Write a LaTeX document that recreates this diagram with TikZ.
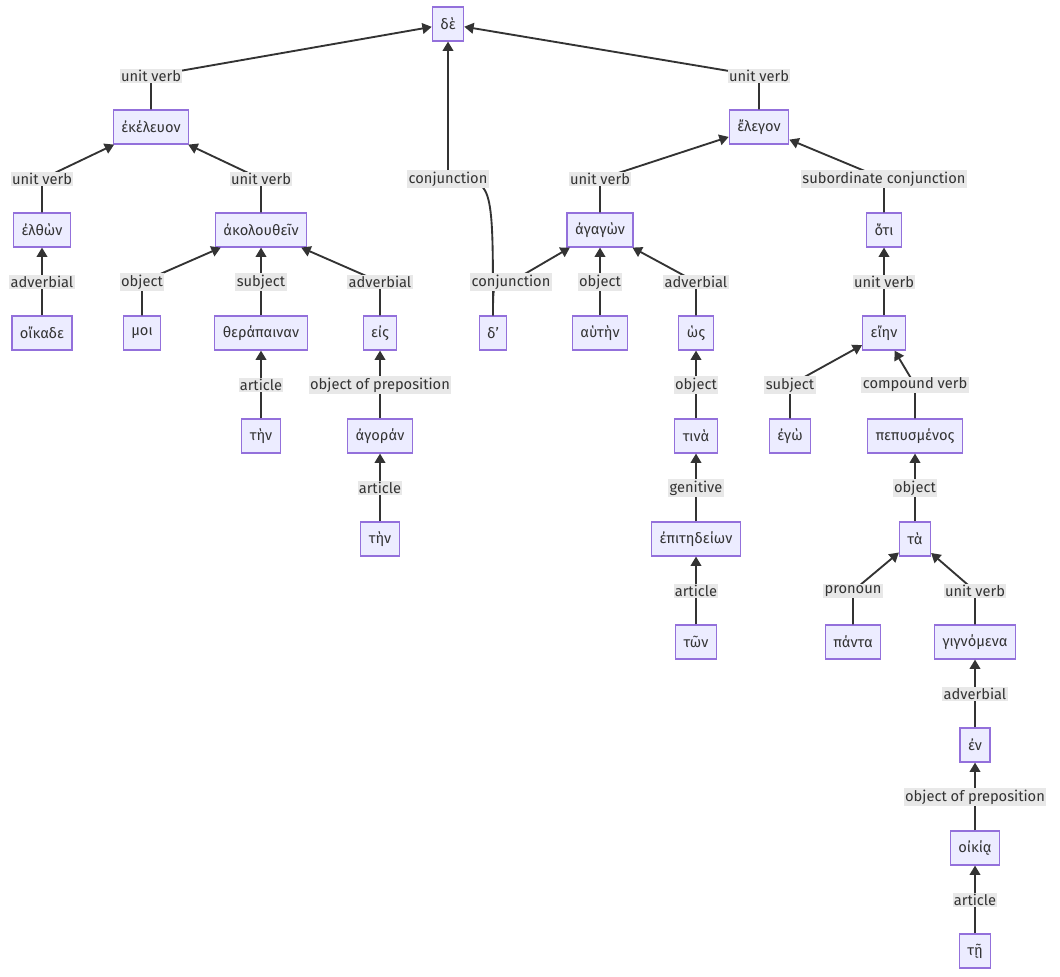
\documentclass[tikz,border=0pt]{standalone}
\usepackage{fontspec}
\setmainfont{Fira Sans}
\usetikzlibrary{arrows.meta}
\definecolor{nfill}{HTML}{ECECFF}
\definecolor{ndraw}{HTML}{9370DB}
\definecolor{lfill}{HTML}{E8E8E8}
\definecolor{ecol}{HTML}{333333}
\tikzset{
 wn/.style={draw=ndraw,fill=nfill,line width=0.9pt,minimum height=25.5pt,inner xsep=6pt,font=\fontsize{11}{13}\selectfont,text=ecol},
 lab/.style={fill=lfill,inner sep=1pt,font=\fontsize{11}{13}\selectfont,text=ecol},
 edge/.style={draw=ecol,line width=1.4pt,-{Triangle[length=7pt,width=8pt]}}
}
\newcommand\ed[5]{%
 \coordinate (#4c) at (#3);
 \draw[edge] (#1.north) .. controls (#1.north|-#4c) .. (#4c) -- (#2);
 \node[lab] (#4) at (#4c) {#5};}
\begin{document}
\begin{tikzpicture}[x=0.75pt,y=-0.75pt]
\useasboundingbox (0,0) rectangle (1060,977);
\node[wn] (de) at (448,24) {δὲ};
\node[wn] (ekel) at (151,127) {ἐκέλευον};
\node[wn] (elth) at (42,230) {ἐλθὼν};
\node[wn] (oik) at (42,333) {οἴκαδε};
\node[wn] (akol) at (261,230) {ἀκολουθεῖν};
\node[wn] (moi) at (142,333) {μοι};
\node[wn] (ther) at (261,333) {θεράπαιναν};
\node[wn] (tin1) at (261,436) {τὴν};
\node[wn] (eis) at (380,333) {εἰς};
\node[wn] (agor) at (380,436) {ἀγοράν};
\node[wn] (tin2) at (380,539) {τὴν};
\node[wn] (dd) at (493,333) {δ'};
\node[wn] (eleg) at (759,127) {ἔλεγον};
\node[wn] (agag) at (600,230) {ἀγαγὼν};
\node[wn] (aut) at (600,333) {αὑτὴν};
\node[wn] (hos) at (696,333) {ὡς};
\node[wn] (tina) at (696,436) {τινὰ};
\node[wn] (epit) at (696,539) {ἐπιτηδείων};
\node[wn] (ton) at (696,642) {τῶν};
\node[wn] (oti) at (884,230) {ὅτι};
\node[wn] (eien) at (884,333) {εἴην};
\node[wn] (ego) at (790,436) {ἐγὼ};
\node[wn] (pep) at (915,436) {πεπυσμένος};
\node[wn] (ta) at (915,539) {τὰ};
\node[wn] (pan) at (853,642) {πάντα};
\node[wn] (gign) at (975,642) {γιγνόμενα};
\node[wn] (en) at (975,745) {ἐν};
\node[wn] (oikia) at (975,848) {οἰκίᾳ};
\node[wn] (te) at (975,951) {τῇ};
\ed{ekel}{de}{151,76}{l1}{unit verb}
\ed{dd}{de}{448,179}{l2}{conjunction}
\ed{eleg}{de}{759,76}{l3}{unit verb}
\ed{elth}{ekel}{42,179}{l4}{unit verb}
\ed{akol}{ekel}{261,179}{l5}{unit verb}
\ed{oik}{elth}{42,282}{l6}{adverbial}
\ed{moi}{akol}{142,282}{l7}{object}
\ed{ther}{akol}{261,282}{l8}{subject}
\ed{eis}{akol}{380,282}{l9}{adverbial}
\ed{tin1}{ther}{261,385}{l10}{article}
\ed{agor}{eis}{380,385}{l11}{object of preposition}
\ed{tin2}{agor}{380,488}{l12}{article}
\ed{agag}{eleg}{600,179}{l13}{unit verb}
\ed{oti}{eleg}{884,179}{l14}{subordinate conjunction}
\ed{dd}{agag}{511,282}{l15}{conjunction}
\ed{aut}{agag}{600,282}{l16}{object}
\ed{hos}{agag}{696,282}{l17}{adverbial}
\ed{tina}{hos}{696,385}{l18}{object}
\ed{epit}{tina}{696,488}{l19}{genitive}
\ed{ton}{epit}{696,591}{l20}{article}
\ed{eien}{oti}{884,282}{l21}{unit verb}
\ed{ego}{eien}{790,385}{l22}{subject}
\ed{pep}{eien}{915,385}{l23}{compound verb}
\ed{ta}{pep}{915,488}{l24}{object}
\ed{pan}{ta}{853,591}{l25}{pronoun}
\ed{gign}{ta}{975,591}{l26}{unit verb}
\ed{en}{gign}{975,694}{l27}{adverbial}
\ed{oikia}{en}{975,797}{l28}{object of preposition}
\ed{te}{oikia}{975,900}{l29}{article}
\end{tikzpicture}
\end{document}
